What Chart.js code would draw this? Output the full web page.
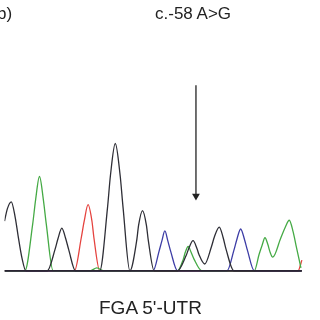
<!DOCTYPE html>
<html>
<head>
<meta charset="utf-8">
<script src="https://cdn.jsdelivr.net/npm/chart.js@4/dist/chart.umd.min.js"></script>
<style>
  html, body { margin: 0; padding: 0; background: #fff; }
  #wrap { position: relative; width: 320px; height: 320px; overflow: hidden; }
  canvas { position: absolute; left: 0; top: 0; }
  .lbl { position: absolute; font-family: "Liberation Sans", Arial, sans-serif; color: #222; line-height: 1; white-space: nowrap; }
</style>
</head>
<body>
<div id="wrap">
  <canvas id="trace" width="320" height="320"></canvas>
  <div class="lbl" style="left:-3px; top:5px; font-size:17px;">b)</div>
  <div class="lbl" style="left:155px; top:5px; font-size:17px;">c.-58 A&gt;G</div>
  <div class="lbl" style="left:99px; top:298px; font-size:19px;">FGA 5'-UTR</div>
</div>
<script>
// Trace samples (scan position, signal height)
const blackX = [0, 3, 7, 11, 14, 18, 22,
                44, 52, 55, 59, 63, 66, 73,
                98, 106, 109, 114, 119, 122, 129,
                136, 138, 142, 146, 148, 154,
                178, 187, 190, 194, 198, 200, 206,
                213, 216, 221, 225, 228, 236, 306];
const blackY = [51, 64, 71, 55, 36, 13, 0,
                0, 22, 33, 44, 33, 22, 0,
                0, 65, 98, 131, 98, 65, 0,
                31, 47, 62, 47, 31, 0,
                0, 16, 24, 31, 23, 17, 7,
                25, 35, 45, 34, 22, 0, 0];

const greenX = [0, 21, 29, 32, 36, 40, 43, 50,
                88, 95, 102,
                178, 184, 186, 189, 192, 195, 203,
                257, 262, 265, 268, 271, 273, 276,
                284, 289, 293, 297, 300, 305];
const greenY = [0, 0, 48, 73, 97, 73, 48, 0,
                0, 3, 0,
                0, 12, 19, 25, 19, 12, 0,
                0, 17, 26, 34, 27, 20, 14,
                33, 45, 52, 40, 26, 3];

const redX = [0, 72, 79, 82, 86, 90, 92, 98, 302, 306];
const redY = [0, 0, 34, 51, 68, 51, 34, 0, 0, 11];

const blueX = [0, 153, 159, 162, 165, 168, 171, 178,
               229, 236, 239, 243, 247, 250, 257, 305];
const blueY = [0, 0, 20, 31, 41, 31, 20, 0,
               0, 21, 32, 43, 32, 21, 0, 0];

// flat baseline where all four traces sit
const baseX = [0, 306];
const baseY = [0, 0];

// mutation arrow
const arrowX = 197;
const arrowTop = 191;
const arrowEnd = 77;

function toPoints(xs, ys) {
    return xs.map((x, i) => ({ x: x, y: ys[i] }));
}

function traceSet(xs, ys, color, order, width) {
    return {
        data: toPoints(xs, ys),
        borderColor: color,
        borderWidth: width || 1.3,
        pointRadius: 0,
        fill: false,
        order: order,
        cubicInterpolationMode: 'monotone'
    };
}

new Chart(document.getElementById('trace'), {
    type: 'line',
    data: {
        datasets: [
            {
                data: [{ x: arrowX, y: arrowTop }, { x: arrowX, y: arrowEnd }],
                borderColor: '#333',
                backgroundColor: '#222',
                borderWidth: 1.4,
                pointRadius: [0, 4.5],
                pointStyle: 'triangle',
                rotation: 180,
                pointBorderWidth: 0,
                order: 0
            },
            traceSet(blackX, blackY, '#2e2e36', 1),
            traceSet(redX, redY, '#e5433f', 4),
            traceSet(blueX, blueY, '#3d3da6', 3),
            traceSet(greenX, greenY, '#45aa45', 2),
            traceSet(baseX, baseY, '#2a2433', 0, 1.8)
        ]
    },
    options: {
        responsive: false,
        animation: false,
        layout: { padding: 0 },
        plugins: { legend: { display: false }, tooltip: { enabled: false } },
        scales: {
            x: { type: 'linear', min: 0, max: 320, display: false },
            y: { min: -46, max: 274, display: false }
        }
    }
});
</script>
</body>
</html>
